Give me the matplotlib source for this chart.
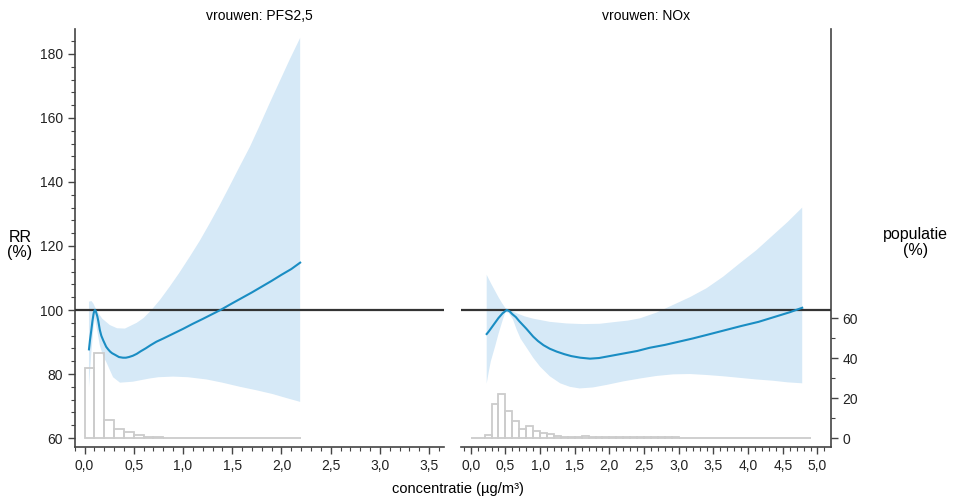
import matplotlib
matplotlib.use("Agg")
import matplotlib.pyplot as plt
from matplotlib.ticker import MultipleLocator, FuncFormatter, FixedLocator

plt.rcParams['font.family'] = ['Liberation Sans', 'DejaVu Sans']

# --- data ---
# left panel: PFS2,5
pfs_x = [0.045, 0.055, 0.07, 0.08, 0.09, 0.095, 0.105, 0.113, 0.12, 0.13, 0.14, 0.155,
         0.17, 0.19, 0.22, 0.24, 0.26, 0.28, 0.31, 0.35, 0.39, 0.42, 0.45, 0.49, 0.53,
         0.57, 0.62, 0.67, 0.73, 0.8, 0.9, 1.0, 1.1, 1.2, 1.38, 1.5, 1.6, 1.7, 1.8,
         1.9, 2.0, 2.1, 2.19]
pfs_rr = [87.7, 90.5, 94.0, 96.5, 98.5, 99.3, 100.0, 99.8, 99.0, 98.0, 96.5, 93.8,
          92.0, 90.5, 88.5, 87.7, 87.0, 86.5, 86.0, 85.3, 85.1, 85.1, 85.3, 85.7, 86.3,
          87.1, 88.0, 89.0, 90.1, 91.1, 92.6, 94.1, 95.7, 97.2, 100.0, 102.1, 103.8,
          105.5, 107.3, 109.1, 111.0, 112.8, 114.8]
pfs_up_x = [0.045, 0.07, 0.09, 0.105, 0.13, 0.18, 0.257, 0.33, 0.41, 0.53, 0.6, 0.68,
            0.77, 0.865, 0.96, 1.07, 1.17, 1.27, 1.37, 1.47, 1.57, 1.68, 1.78, 1.88,
            1.98, 2.08, 2.19]
pfs_up = [102.6, 102.8, 102.0, 101.0, 99.5, 97.3, 95.3, 94.3, 94.2, 96.0, 97.5, 100.0,
          103.3, 107.3, 111.5, 116.7, 121.6, 127.0, 132.6, 138.5, 144.5, 151.0, 157.7,
          164.6, 171.3, 178.0, 185.0]
pfs_lo_x = [0.045, 0.07, 0.09, 0.105, 0.12, 0.155, 0.19, 0.22, 0.29, 0.36, 0.49, 0.66,
            0.75, 0.9, 1.05, 1.24, 1.4, 1.58, 1.75, 1.91, 2.05, 2.19]
pfs_lo = [76.0, 87.0, 94.0, 97.5, 95.0, 89.0, 85.5, 83.8, 79.0, 77.3, 77.6, 78.6,
          79.0, 79.2, 79.0, 78.3, 77.3, 76.0, 74.9, 73.75, 72.5, 71.3]
pfs_pop = [35.2, 42.7, 8.8, 4.5, 2.8, 1.3, 0.7, 0.35, 0.15, 0.15, 0.15, 0.15, 0.15,
           0.15, 0.15, 0.15, 0.15, 0.15, 0.15, 0.15, 0.0, 0.15]

# right panel: NOx
nox_x = [0.23, 0.26, 0.3, 0.35, 0.4, 0.46, 0.52, 0.56, 0.6, 0.65, 0.7, 0.8, 0.9,
         0.97, 1.05, 1.14, 1.24, 1.35, 1.45, 1.58, 1.72, 1.85, 1.95, 2.05, 2.2, 2.4,
         2.58, 2.8, 3.0, 3.2, 3.4, 3.65, 3.9, 4.15, 4.36, 4.6, 4.78]
nox_rr = [92.5, 93.3, 94.5, 96.0, 97.5, 99.0, 100.0, 99.6, 98.7, 97.8, 96.5, 94.2,
          91.7, 90.3, 89.0, 87.9, 87.0, 86.2, 85.6, 85.1, 84.8, 85.0, 85.4, 85.8, 86.4,
          87.2, 88.2, 89.1, 90.1, 91.1, 92.2, 93.6, 95.0, 96.3, 97.7, 99.3, 100.7]
nox_up_x = [0.23, 0.26, 0.3, 0.35, 0.4, 0.45, 0.5, 0.56, 0.66, 0.78, 0.9, 1.02, 1.14,
            1.38, 1.62, 1.86, 2.1, 2.27, 2.44, 2.68, 2.92, 3.16, 3.4, 3.64, 3.88, 4.12,
            4.36, 4.57, 4.78]
nox_up = [111.0, 109.7, 108.0, 106.0, 104.0, 102.2, 100.6, 100.0, 99.0, 98.0, 97.3,
          96.8, 96.3, 95.8, 95.6, 95.7, 96.3, 96.7, 97.4, 99.2, 101.6, 104.0, 106.8,
          110.4, 114.6, 118.7, 123.4, 127.5, 132.0]
nox_lo_x = [0.23, 0.26, 0.29, 0.35, 0.4, 0.45, 0.5, 0.55, 0.61, 0.66, 0.72, 0.8, 0.9,
            1.0, 1.14, 1.29, 1.43, 1.57, 1.76, 1.96, 2.2, 2.44, 2.68, 2.92, 3.16, 3.4,
            3.64, 3.88, 4.12, 4.36, 4.57, 4.78]
nox_lo = [77.0, 80.7, 84.0, 88.5, 92.5, 96.1, 99.4, 99.0, 97.0, 94.0, 91.0, 88.4, 85.1,
          82.3, 79.3, 77.1, 76.0, 75.5, 75.8, 76.6, 77.7, 78.6, 79.4, 79.9, 80.0, 79.7,
          79.3, 78.8, 78.3, 77.9, 77.4, 77.1]
nox_pop = [0.0, 0.0, 1.3, 17.0, 22.0, 13.5, 8.5, 4.3, 6.0, 3.5, 2.3, 1.8, 1.0,
           0.4, 0.3, 0.4, 0.9, 0.5, 0.4, 0.4, 0.3, 0.3, 0.3, 0.3, 0.4, 0.3, 0.3,
           0.3, 0.3, 0.3, 0.2, 0.2, 0.2, 0.2, 0.2, 0.2, 0.2, 0.2, 0.2, 0.2, 0.2,
           0.2, 0.2, 0.2, 0.2, 0.2, 0.2, 0.2, 0.2]

bin_width = 0.1
titles = ['vrouwen: PFS2,5', 'vrouwen: NOx']

line_color = '#1a8dc3'
band_color = '#d6e9f7'
hist_edge = '#cccccc'
axis_color = '#444444'


def pop_to_rr(p):
    return 60 + 0.625 * p


def rr_to_pop(rr):
    return (rr - 60) / 0.625


def comma(v, pos):
    return f"{v:.1f}".replace('.', ',')


def draw_panel(ax, cx, cy, ux, uy, lx, ly, pop, title, xlim, xtick_max):
    # confidence band: polygon from upper and lower edges
    poly_x = list(ux) + list(reversed(lx))
    poly_y = list(uy) + list(reversed(ly))
    ax.fill(poly_x, poly_y, color=band_color, lw=0, zorder=1)

    edges = [i * bin_width for i in range(len(pop))]
    ax.bar(edges, [pop_to_rr(p) - 60 for p in pop], width=bin_width, bottom=60,
           align='edge', facecolor='none', edgecolor=hist_edge, linewidth=1.3, zorder=2)

    ax.axhline(100, color='#333333', lw=1.6, zorder=3)
    ax.plot(cx, cy, color=line_color, lw=1.5, zorder=4, solid_joinstyle='round')

    ax.set_ylim(57.2, 187.7)
    ax.set_xlim(*xlim)
    ax.xaxis.set_major_locator(FixedLocator([i * 0.5 for i in range(int(xtick_max / 0.5) + 1)]))
    ax.xaxis.set_minor_locator(MultipleLocator(0.1))
    ax.xaxis.set_major_formatter(FuncFormatter(comma))
    ax.set_title(title, fontsize=10, pad=7)
    for s in ('top', 'right', 'left', 'bottom'):
        ax.spines[s].set_color(axis_color)
        ax.spines[s].set_linewidth(1.2)
    ax.tick_params(axis='both', which='major', direction='out', length=5, width=1,
                   color=axis_color, labelsize=10, labelcolor='#222222')
    ax.tick_params(axis='both', which='minor', direction='out', length=3, width=0.8,
                   color=axis_color)


fig = plt.figure(figsize=(9.54, 5), dpi=100)
axL = fig.add_axes([0.0783, 0.106, 0.387, 0.8354])
axR = fig.add_axes([0.4829, 0.106, 0.3878, 0.8354])

draw_panel(axL, pfs_x, pfs_rr, pfs_up_x, pfs_up, pfs_lo_x, pfs_lo, pfs_pop,
           titles[0], (-0.1, 3.65), 3.5)
draw_panel(axR, nox_x, nox_rr, nox_up_x, nox_up, nox_lo_x, nox_lo, nox_pop,
           titles[1], (-0.145, 5.19), 5.0)

# left panel: RR axis on the left
axL.spines['top'].set_visible(False)
axL.spines['right'].set_visible(False)
axL.set_yticks([60, 80, 100, 120, 140, 160, 180])
axL.yaxis.set_minor_locator(MultipleLocator(4))

# right panel: population axis on the right
axR.spines['top'].set_visible(False)
axR.spines['left'].set_visible(False)
axR.spines['right'].set_visible(False)
axR.tick_params(axis='y', which='both', left=False, labelleft=False)
sec = axR.secondary_yaxis('right', functions=(rr_to_pop, pop_to_rr))
sec.set_yticks([0, 20, 40, 60])
sec.yaxis.set_minor_locator(FixedLocator([10, 30, 50]))
sec.spines['right'].set_color(axis_color)
sec.spines['right'].set_linewidth(1.2)
sec.tick_params(axis='y', which='major', direction='out', length=5, width=1,
                color=axis_color, labelsize=10, labelcolor='#222222')
sec.tick_params(axis='y', which='minor', direction='out', length=3, width=0.8,
                color=axis_color)

fig.text(0.021, 0.51, 'RR\n(%)', ha='center', va='center', fontsize=11.5,
         linespacing=1.0)
fig.text(0.96, 0.515, 'populatie\n(%)', ha='center', va='center', fontsize=11.5,
         linespacing=1.0)
fig.text(0.48, 0.022, 'concentratie (µg/m³)', ha='center', va='center', fontsize=10.5)

fig.savefig('out.png', dpi=100)
